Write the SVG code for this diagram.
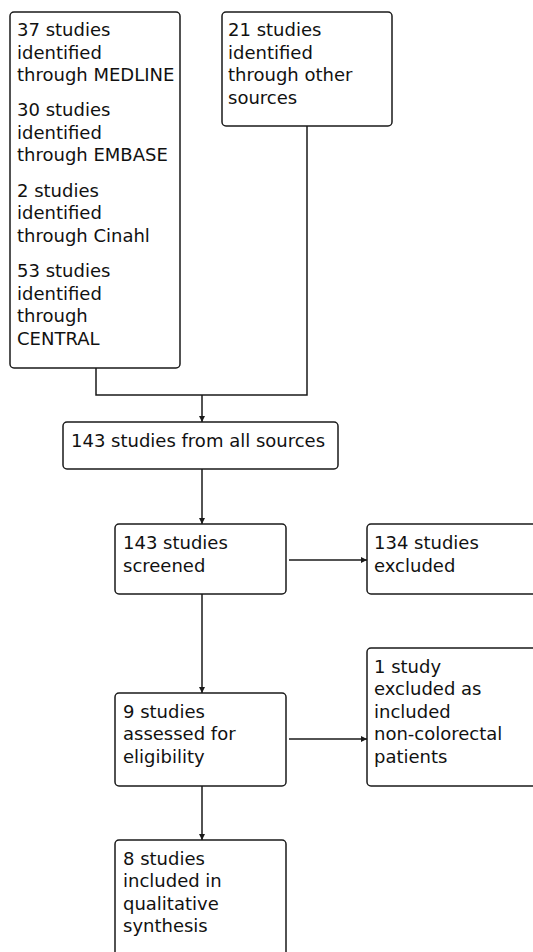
<svg xmlns="http://www.w3.org/2000/svg" width="533" height="952" viewBox="0 0 533 952">
<style>
.box{fill:#fff;stroke:#1a1a1a;stroke-width:1.5}
.t{font-family:"DejaVu Sans",sans-serif;font-size:18px;fill:#111}
.c{fill:none;stroke:#1a1a1a;stroke-width:1.5}
</style>
<defs>
<marker id="ah" viewBox="0 0 8 8" refX="8" refY="4" markerWidth="6" markerHeight="6" markerUnits="userSpaceOnUse" orient="auto">
<path d="M0,0 L8,4 L0,8 z" fill="#1a1a1a"/>
</marker>
</defs>
<rect width="533" height="952" fill="#fff"/>
<g id="connectors">
<polyline class="c" points="96,368 96,395 307,395 307,126"/>
<line class="c" x1="202" y1="395" x2="202" y2="422" marker-end="url(#ah)"/>
<line class="c" x1="202" y1="469" x2="202" y2="524" marker-end="url(#ah)"/>
<line class="c" x1="289" y1="560" x2="367" y2="560" marker-end="url(#ah)"/>
<line class="c" x1="202" y1="594" x2="202" y2="693" marker-end="url(#ah)"/>
<line class="c" x1="289" y1="739" x2="367" y2="739" marker-end="url(#ah)"/>
<line class="c" x1="202" y1="786" x2="202" y2="840" marker-end="url(#ah)"/>
</g>
<g id="n1">
<rect class="box" x="10" y="12" width="170" height="356" rx="4"/>
<text class="t" x="17"><tspan x="17" y="36">37 studies</tspan><tspan x="17" y="58.5">identified</tspan><tspan x="17" y="81">through MEDLINE</tspan><tspan x="17" y="116">30 studies</tspan><tspan x="17" y="138.5">identified</tspan><tspan x="17" y="161">through EMBASE</tspan><tspan x="17" y="196.5">2 studies</tspan><tspan x="17" y="219">identified</tspan><tspan x="17" y="241.5">through Cinahl</tspan><tspan x="17" y="277">53 studies</tspan><tspan x="17" y="299.5">identified</tspan><tspan x="17" y="322">through</tspan><tspan x="17" y="344.5">CENTRAL</tspan></text>
</g>
<g id="n2">
<rect class="box" x="222" y="12" width="170" height="114" rx="4"/>
<text class="t"><tspan x="228" y="36">21 studies</tspan><tspan x="228" y="58.5">identified</tspan><tspan x="228" y="81">through other</tspan><tspan x="228" y="103.5">sources</tspan></text>
</g>
<g id="n3">
<rect class="box" x="63" y="422" width="275" height="47" rx="4"/>
<text class="t" x="71" y="447">143 studies from all sources</text>
</g>
<g id="n4">
<rect class="box" x="115" y="524" width="171" height="70" rx="4"/>
<text class="t"><tspan x="123" y="549">143 studies</tspan><tspan x="123" y="571.5">screened</tspan></text>
</g>
<g id="n5">
<rect class="box" x="367" y="524" width="175" height="70" rx="4"/>
<text class="t"><tspan x="374" y="549">134 studies</tspan><tspan x="374" y="571.5">excluded</tspan></text>
</g>
<g id="n6">
<rect class="box" x="115" y="693" width="171" height="93" rx="4"/>
<text class="t"><tspan x="123" y="717.5">9 studies</tspan><tspan x="123" y="740">assessed for</tspan><tspan x="123" y="762.5">eligibility</tspan></text>
</g>
<g id="n7">
<rect class="box" x="367" y="648" width="175" height="138" rx="4"/>
<text class="t"><tspan x="374" y="672.5">1 study</tspan><tspan x="374" y="695">excluded as</tspan><tspan x="374" y="717.5">included</tspan><tspan x="374" y="740">non-colorectal</tspan><tspan x="374" y="762.5">patients</tspan></text>
</g>
<g id="n8">
<rect class="box" x="115" y="840" width="171" height="120" rx="4"/>
<text class="t"><tspan x="123" y="864.5">8 studies</tspan><tspan x="123" y="887">included in</tspan><tspan x="123" y="909.5">qualitative</tspan><tspan x="123" y="932">synthesis</tspan></text>
</g>
</svg>
